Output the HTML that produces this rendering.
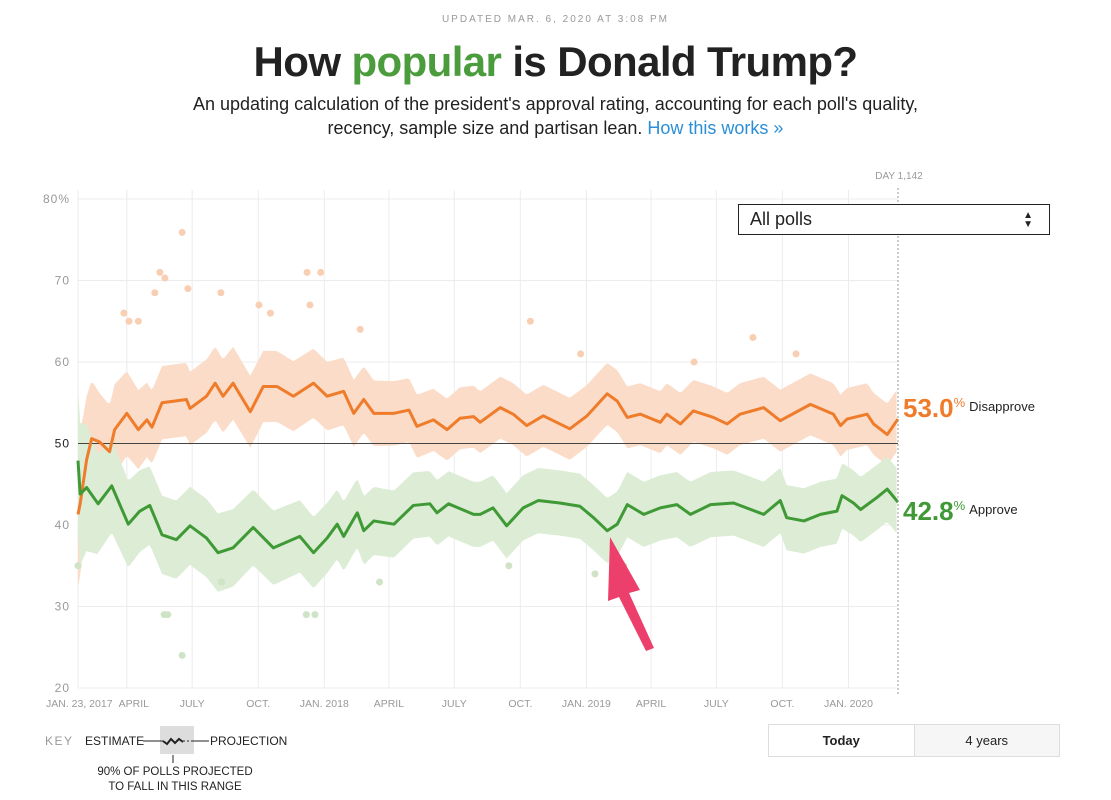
<!DOCTYPE html>
<html><head><meta charset="utf-8">
<style>
body{margin:0;width:1111px;height:800px;background:#fff;font-family:"Liberation Sans",sans-serif;position:relative;overflow:hidden;color:#222}
.abs{position:absolute}
#updated{left:0;width:1111px;top:14px;text-align:center;font-size:10px;letter-spacing:2px;color:#999}
#title{left:0;width:1111px;top:38px;text-align:center;font-size:42px;font-weight:bold;color:#222;letter-spacing:-0.6px}
#sub{left:0;width:1111px;top:92px;text-align:center;font-size:18px;line-height:24px;color:#222}
#sub a{color:#2b8ed6;text-decoration:none}
#dropdown{left:738px;top:204px;width:310px;height:29px;border:1.5px solid #222;background:#fff;font-size:18px;line-height:29px;box-sizing:content-box}
#btns{left:768px;top:724px;width:290px;height:31px;border:1px solid #ddd;display:flex;font-size:13px}
#btns div{flex:1;text-align:center;line-height:31px}
</style></head><body>
<div id="updated" class="abs">UPDATED MAR. 6, 2020 AT 3:08 PM</div>
<div id="title" class="abs">How <span style="color:#4a9c3c">popular</span> is Donald Trump?</div>
<div id="sub" class="abs">An updating calculation of the president's approval rating, accounting for each poll's quality,<br>recency, sample size and partisan lean. <a href="#">How this works »</a></div>

<svg id="chart" class="abs" style="left:0;top:0" width="1111" height="800">
<g id="grid"></g><g id="bands"></g><g id="dots"></g><g id="lines"></g><g id="labels"></g>
</svg>

<div id="dropdown" class="abs"><span style="margin-left:11px">All polls</span><span style="position:absolute;right:16px;top:0;font-size:10px;line-height:9px;padding-top:6px">▲<br>▼</span></div>
<div id="btns" class="abs"><div style="font-weight:bold;border-right:1px solid #ddd">Today</div><div style="background:#f6f6f6">4 years</div></div>

<script>
const disDays=[0,3,12,19,30,44,51,68,84,96,103,117,151,156,179,191,202,216,240,258,277,300,328,347,370,384,398,412,440,461,472,495,514,532,551,560,588,606,625,648,685,709,737,751,765,783,811,820,839,857,885,904,922,955,978,1020,1052,1062,1071,1099,1108,1127,1142];
const disVals=[41.3,42.6,48,50.6,50.2,49,51.7,53.7,51.7,52.9,52,55,55.4,54.3,55.8,57.4,55.8,57.4,53.9,57,57,55.8,57.4,55.8,56.4,53.7,55.4,53.7,53.7,54.1,52.1,52.9,51.7,53.1,53.3,52.6,54.4,53.6,52.2,53.4,51.8,53.4,56.1,55.2,53.2,53.6,52.6,53.6,52.4,54,53.2,52.4,53.6,54.4,52.8,54.8,53.6,52.2,53,53.6,52.4,51.1,53.0];
const appDays=[0,3,12,28,47,70,86,100,117,137,156,179,195,216,244,272,309,328,347,361,370,389,398,412,440,467,490,500,516,551,560,578,597,620,641,671,699,718,737,751,765,788,811,834,853,881,913,955,978,987,1011,1034,1057,1064,1080,1090,1113,1127,1142];
const appVals=[47.9,43.8,44.6,42.6,44.8,40.1,41.7,42.4,38.8,38.2,39.9,38.4,36.6,37.2,39.7,37.2,38.6,36.6,38.4,40.1,38.6,41.5,39.3,40.5,40.1,42.4,42.6,41.5,42.6,41.3,41.3,42.1,39.9,42.1,43,42.7,42.3,40.9,39.3,40.1,42.5,41.3,42.1,42.5,41.3,42.5,42.7,41.3,43,40.9,40.5,41.3,41.7,43.6,42.7,41.9,43.4,44.4,42.8];
const bandDays=[0,30,100,200,350,500,700,900,1142];
const disBandHalf=[9,6,4.5,4.5,4.2,3.8,3.8,3.8,3.8];
const appBandHalf=[9,6,4.8,4.8,4.3,4,4,4,4];
const disOutDays=[145,114,121,153,319,338,107,199,393,64,71,84,252,268,323,630,700,858,940,1000];
const disOutVals=[75.9,71,70.3,69,71,71,68.5,68.5,64,66,65,65,67,66,67,65,61,60,63,61];
const appOutDays=[145,120,125,318,330,0,200,720,760,420,600];
const appOutVals=[24,29,29,29,29,35,33,34,35,33,35];
const yTicks=[20,30,40,50,60,70,80];
const xTickDays=[68,159,251,343,433,524,616,708,798,889,981,1073];
const xTickLabels=["APRIL","JULY","OCT.","JAN. 2018","APRIL","JULY","OCT.","JAN. 2019","APRIL","JULY","OCT.","JAN. 2020"];
const TOTAL=1142;
const NS="http://www.w3.org/2000/svg";
const X=d=>78+d*(820/TOTAL);
const Y=v=>443.5-(v-50)*8.15;
function mk(tag,attrs,parent){const e=document.createElementNS(NS,tag);for(const k in attrs)e.setAttribute(k,attrs[k]);parent.appendChild(e);return e;}
function interp(ds,vs,d){for(let i=1;i<ds.length;i++){if(d<=ds[i]){const t=(d-ds[i-1])/(ds[i]-ds[i-1]);return vs[i-1]+t*(vs[i]-vs[i-1]);}}return vs[vs.length-1];}
const grid=document.getElementById('grid'),bands=document.getElementById('bands'),dots=document.getElementById('dots'),lines=document.getElementById('lines'),labels=document.getElementById('labels');
yTicks.forEach(v=>{
 const l=mk('line',{x1:78,x2:898,y1:Y(v),y2:Y(v),stroke:'#ececec'},grid);
 
 
 const t=mk('text',{x:70,y:Y(v)+4,'text-anchor':'end','font-size':12,fill:v===50?'#222':'#999','letter-spacing':'1'},labels);
 t.textContent=v===80?'80%':String(v);
 
 
});
const vl=mk('line',{x1:78,x2:78,y1:190,y2:688,stroke:'#ececec'},grid);


xTickDays.forEach((d,i)=>{
 const l=mk('line',{x1:X(d),x2:X(d),y1:190,y2:688,stroke:'#ececec'},grid);
 
 
 const t=mk('text',{x:X(d)+(i===0?7:0),y:707,'text-anchor':'middle','font-size':10.5,fill:'#999'},labels);
 t.textContent=xTickLabels[i];
 
 
});
const t0=mk('text',{x:46,y:707,'font-size':10.5,fill:'#999'},labels);
t0.textContent='JAN. 23, 2017';


function band(ds,vs,half,color,name){
 let up=[],lo=[];
 for(let d=0;d<=TOTAL;d+=3){const v=interp(ds,vs,d),h=interp(bandDays,half,d);up.push(X(d)+','+Y(v+h));lo.unshift(X(d)+','+Y(v-h));}
 const p=mk('polygon',{points:up.concat(lo).join(' '),fill:color},bands);
 
 
}
band(disDays,disVals,disBandHalf,'#fbdcc8','disapprove-band');
band(appDays,appVals,appBandHalf,'#dcecd5','approve-band');
const ml=mk('line',{x1:78,x2:898,y1:Y(50),y2:Y(50),stroke:'#444','stroke-width':1},bands);


disOutDays.forEach((d,i)=>{const c=mk('circle',{cx:X(d),cy:Y(disOutVals[i]),r:3.5,fill:'#f8cfb3'},dots);
 
 });
appOutDays.forEach((d,i)=>{const c=mk('circle',{cx:X(d),cy:Y(appOutVals[i]),r:3.5,fill:'#cfe3c6'},dots);
 
 });
function line(ds,vs,color,name){
 const p=mk('polyline',{points:ds.map((d,i)=>X(d)+','+Y(vs[i])).join(' '),fill:'none',stroke:color,'stroke-width':3,'stroke-linejoin':'round'},lines);
 
 
}
line(disDays,disVals,'#ef7c2b','disapprove-line');
line(appDays,appVals,'#3f9a36','approve-line');
const today=mk('line',{x1:898,x2:898,y1:188,y2:695,stroke:'#999','stroke-dasharray':'2,2'},lines);


const dl=mk('text',{x:899,y:179,'text-anchor':'middle','font-size':10,fill:'#999'},labels);
dl.textContent='DAY 1,142';


const lastD=disVals[disVals.length-1],lastA=appVals[appVals.length-1];
function endLabel(v,yPos,color,word,name){
 const t=mk('text',{x:903,y:yPos,'font-size':26,'font-weight':'bold',fill:color},labels);
 t.innerHTML=v.toFixed(1)+'<tspan font-size="13" dy="-10" font-weight="normal">%</tspan><tspan font-size="13" dx="4" dy="4" fill="#222" font-weight="normal">'+word+'</tspan>';
 
 
}
endLabel(lastD,Y(lastD)-2,'#ef7c2b','Disapprove','disapprove-value-label');
endLabel(lastA,Y(lastA)+18,'#3f9a36','Approve','approve-value-label');
</script>

<svg class="abs" style="left:0;top:0;pointer-events:none" width="1111" height="800">
<g>
<polygon points="610,537 640,590 629,593 654,648 646,651 619,597 608,601" fill="#ec3f6b"/>
</g>
<g>
<text x="45" y="745" font-size="12" fill="#999" letter-spacing="1.5">KEY</text>
<text x="85" y="745" font-size="12" fill="#222">ESTIMATE</text>
<rect x="160" y="726" width="34" height="28" fill="#ddd"/>
<line x1="143" y1="741" x2="163" y2="741" stroke="#222"/>
<polyline points="163,741 167,744 171,739 175,743 179,739 183,742" fill="none" stroke="#222" stroke-width="2"/>
<line x1="183" y1="741" x2="193" y2="741" stroke="#222" stroke-dasharray="2,2"/>
<line x1="193" y1="741" x2="209" y2="741" stroke="#222"/>
<text x="210" y="745" font-size="12" fill="#222">PROJECTION</text>
<line x1="173" y1="755" x2="173" y2="763" stroke="#222"/>
<text x="175" y="775" font-size="11.5" fill="#222" text-anchor="middle">90% OF POLLS PROJECTED</text>
<text x="175" y="790" font-size="11.5" fill="#222" text-anchor="middle">TO FALL IN THIS RANGE</text>
</g>
</svg>
</body></html>
